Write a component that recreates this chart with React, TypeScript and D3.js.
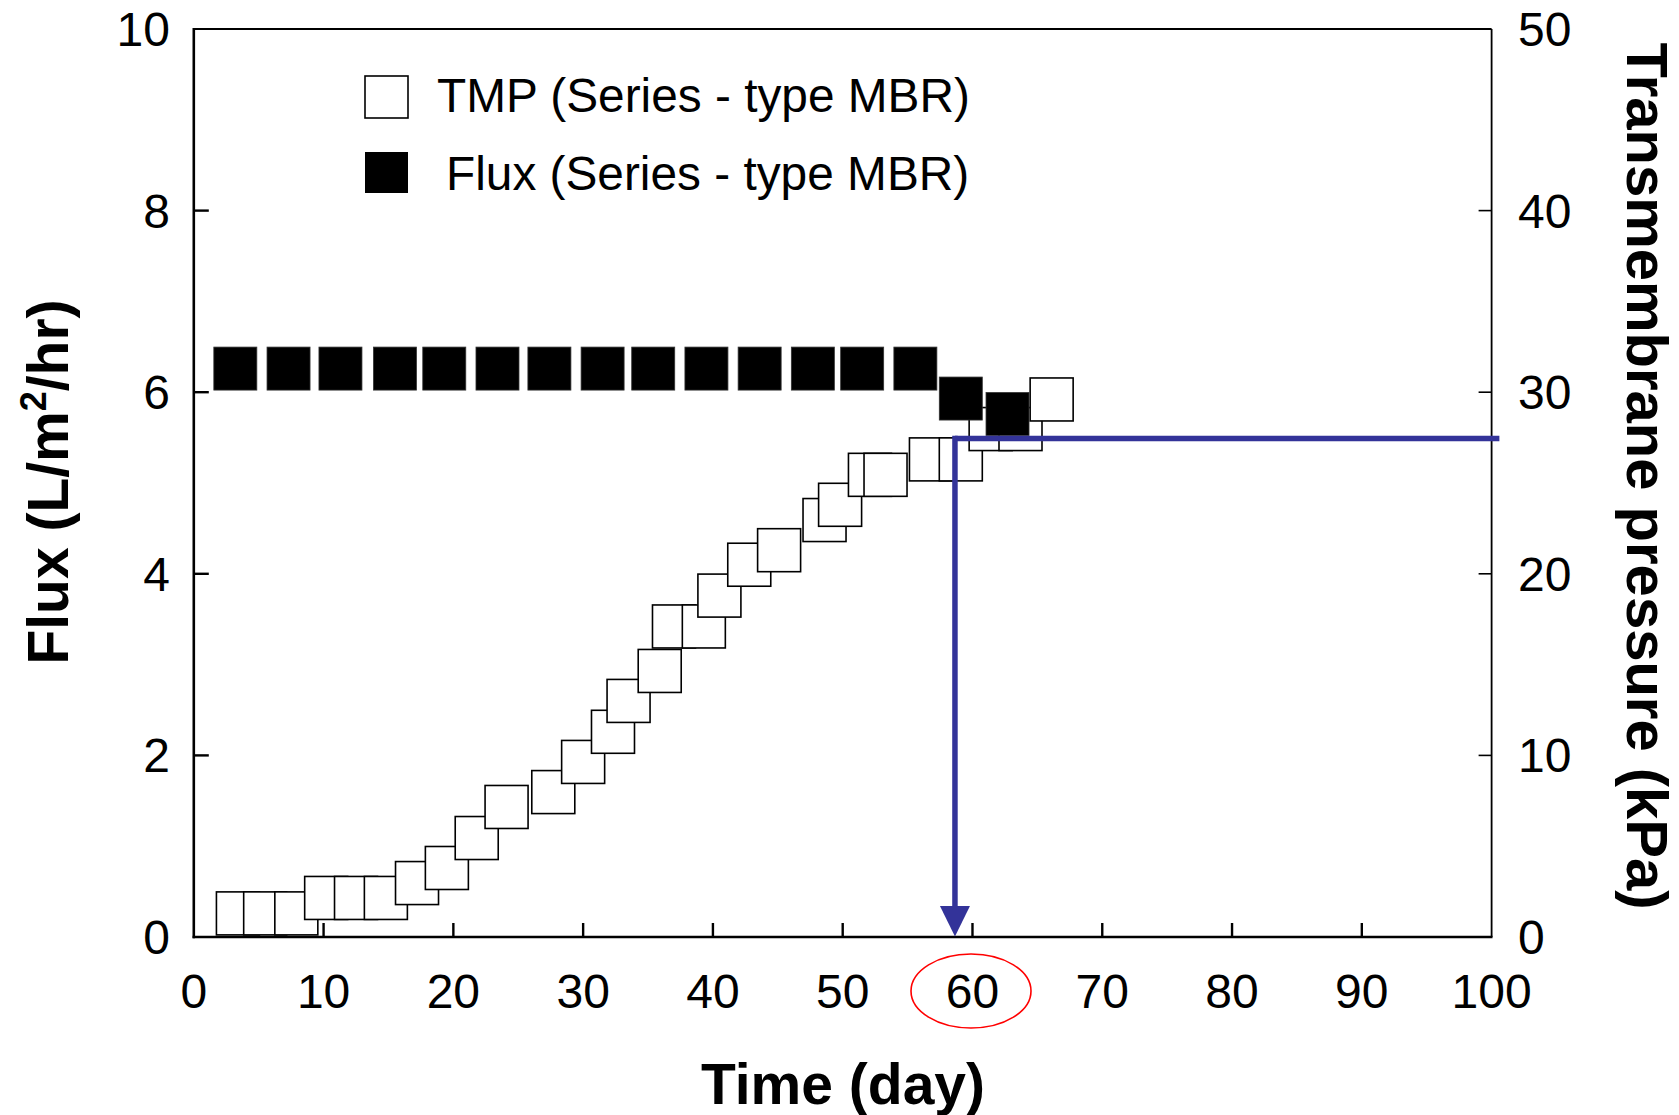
import React from "react";
import * as d3 from "d3";

const tmpDays = [3.4, 5.5, 7.9, 10.2, 12.5, 14.8, 17.2, 19.5, 21.8, 24.1, 27.7, 30.0, 32.3, 33.5, 35.9, 37.0, 39.3, 40.5, 42.8, 45.1, 48.6, 49.8, 52.1, 53.3, 56.8, 59.1, 61.4, 63.7, 66.1];
const tmpValues = [1.3, 1.3, 1.3, 2.15, 2.15, 2.15, 2.97, 3.8, 5.45, 7.16, 7.98, 9.64, 11.3, 13.0, 14.65, 17.1, 17.1, 18.8, 20.5, 21.3, 22.96, 23.8, 25.45, 25.45, 26.3, 26.3, 27.97, 27.97, 29.6];

const fluxDays = [3.2, 7.3, 11.3, 15.5, 19.3, 23.4, 27.4, 31.5, 35.4, 39.5, 43.6, 47.7, 51.5, 55.6, 59.1, 62.7];
const fluxValues = [6.26, 6.26, 6.26, 6.26, 6.26, 6.26, 6.26, 6.26, 6.26, 6.26, 6.26, 6.26, 6.26, 6.26, 5.93, 5.76];

const xTicks = [0, 10, 20, 30, 40, 50, 60, 70, 80, 90, 100];
const leftTicks = [0, 2, 4, 6, 8, 10];
const rightTicks = [0, 10, 20, 30, 40, 50];

const arrowDay = 58.65;
const arrowTmp = 27.45;
const arrowEndDay = 100.6;

const legendItems = ["TMP (Series - type MBR)", "Flux (Series - type MBR)"];

const FONT = "'Liberation Sans', Arial, Helvetica, sans-serif";
const BLUE = "#333399";

export default function App() {
  const W = 1679, H = 1115;
  const left = 193.8, right = 1491.6, top = 29, bottom = 937;
  const x = d3.scaleLinear().domain([0, 100]).range([left, right]);
  const yL = d3.scaleLinear().domain([0, 10]).range([bottom, top]);
  const yR = d3.scaleLinear().domain([0, 50]).range([bottom, top]);
  const ms = 43;

  const ax = x(arrowDay);
  const ay = yR(arrowTmp);

  return (
    <svg width={W} height={H} style={{ position: "absolute", left: 0, top: 0, background: "#fff" }} fontFamily={FONT}>
      <rect x={0} y={0} width={W} height={H} fill="#fff" />
      {/* frame */}
      <line x1={left} x2={right} y1={top} y2={top} stroke="#000" strokeWidth={1.8} />
      <line x1={right} x2={right} y1={top} y2={bottom} stroke="#000" strokeWidth={1.8} />
      <line x1={left} x2={left} y1={top - 0.9} y2={bottom + 1.2} stroke="#000" strokeWidth={2.6} />
      <line x1={left - 1.2} x2={right + 0.9} y1={bottom} y2={bottom} stroke="#000" strokeWidth={2.6} />
      {/* ticks */}
      {xTicks.filter(t => t > 0 && t < 100).map(t => (
        <line key={"xt" + t} x1={x(t)} x2={x(t)} y1={bottom} y2={bottom - 14} stroke="#000" strokeWidth={2.4} />
      ))}
      {leftTicks.filter(t => t > 0 && t < 10).map(t => (
        <line key={"lt" + t} x1={left} x2={left + 15} y1={yL(t)} y2={yL(t)} stroke="#000" strokeWidth={2.4} />
      ))}
      {rightTicks.filter(t => t > 0 && t < 50).map(t => (
        <line key={"rt" + t} x1={right} x2={right - 13} y1={yR(t)} y2={yR(t)} stroke="#000" strokeWidth={1.6} />
      ))}
      {/* tick labels */}
      {xTicks.map(t => (
        <text key={"xl" + t} x={x(t)} y={1008} fontSize={48} textAnchor="middle" fill="#000">{t}</text>
      ))}
      {leftTicks.map(t => (
        <text key={"ll" + t} x={170} y={yL(t) + 17} fontSize={48} textAnchor="end" fill="#000">{t}</text>
      ))}
      {rightTicks.map(t => (
        <text key={"rl" + t} x={1518} y={yR(t) + 17} fontSize={48} textAnchor="start" fill="#000">{t}</text>
      ))}
      {/* TMP squares */}
      {tmpDays.map((d, i) => (
        <rect key={"tmp" + i} x={x(d) - ms / 2} y={yR(tmpValues[i]) - ms / 2} width={ms} height={ms}
          fill="#fff" stroke="#000" strokeWidth={1.6} />
      ))}
      {/* Flux squares */}
      {fluxDays.map((d, i) => (
        <rect key={"fx" + i} x={x(d) - ms / 2} y={yL(fluxValues[i]) - ms / 2} width={ms} height={ms}
          fill="#000" stroke="#333" strokeWidth={0.8} />
      ))}
      {/* blue arrow */}
      <line x1={ax} x2={x(arrowEndDay)} y1={ay} y2={ay} stroke={BLUE} strokeWidth={5.5} />
      <line x1={ax} x2={ax} y1={ay - 2.75} y2={bottom - 28} stroke={BLUE} strokeWidth={5.5} />
      <path d={`M${ax - 15},${bottom - 31} L${ax + 15},${bottom - 31} L${ax},${bottom - 0.5} Z`} fill={BLUE} />
      {/* red ellipse */}
      <ellipse cx={971} cy={991} rx={60} ry={37} fill="none" stroke="#ff0000" strokeWidth={1.6} />
      {/* legend */}
      <rect x={365} y={76} width={43} height={42} fill="#fff" stroke="#000" strokeWidth={1.6} />
      <text x={437} y={112} fontSize={47.8} fill="#000">{legendItems[0]}</text>
      <rect x={365} y={152} width={43} height={41} fill="#000" />
      <text x={446} y={190} fontSize={47.8} fill="#000">{legendItems[1]}</text>
      {/* axis titles */}
      <text transform="translate(68,482) rotate(-90)" fontSize={57} fontWeight="bold" textAnchor="middle" fill="#000">
        Flux (L/m<tspan fontSize={36} dy={-22}>2</tspan><tspan dy={22}>/hr)</tspan>
      </text>
      <text transform="translate(1627,476) rotate(90)" fontSize={58} fontWeight="bold" textAnchor="middle" fill="#000">
        Transmembrane pressure (kPa)
      </text>
      <text x={843} y={1104} fontSize={57} fontWeight="bold" textAnchor="middle" fill="#000">Time (day)</text>
    </svg>
  );
}
